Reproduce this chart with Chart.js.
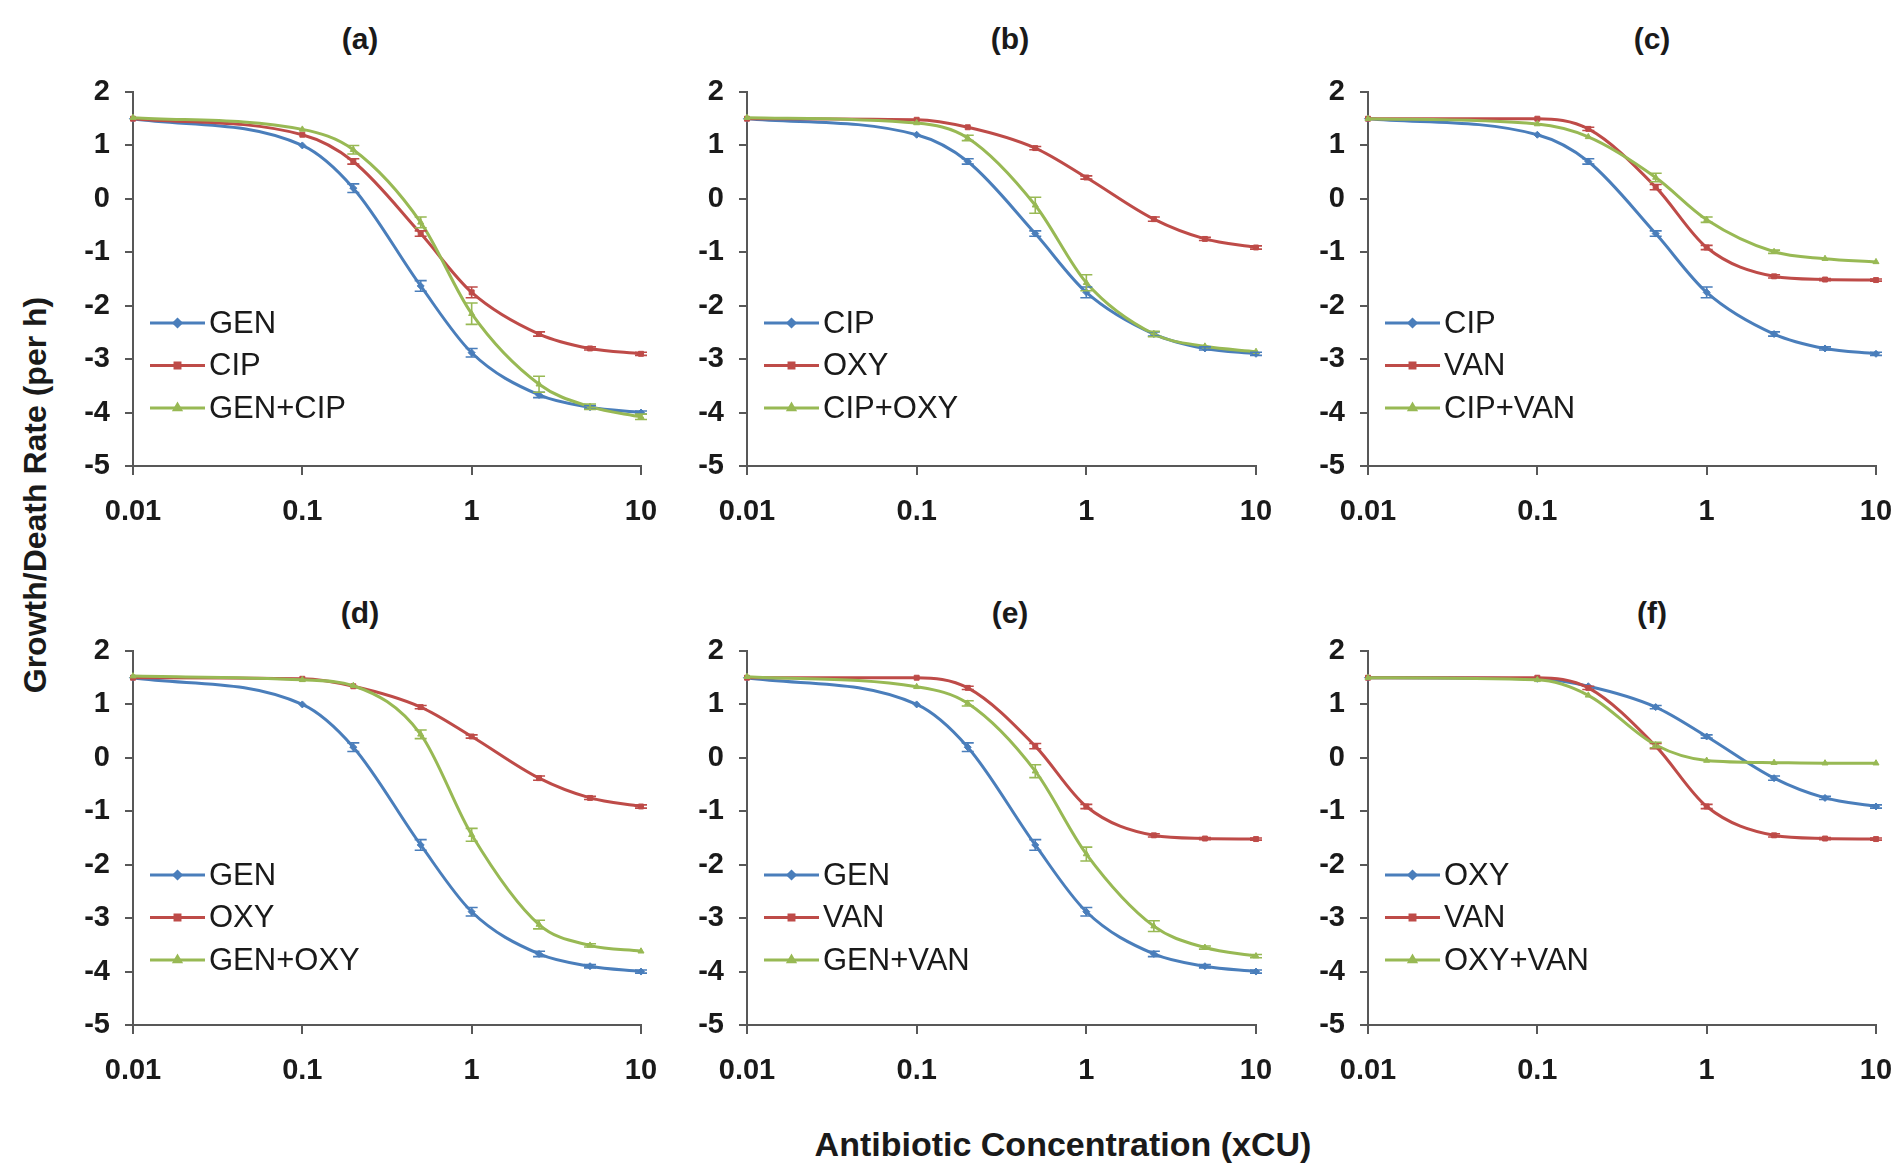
<!DOCTYPE html>
<html>
<head>
<meta charset="utf-8">
<title>Growth/Death Rate vs Antibiotic Concentration</title>
<script src="https://cdn.jsdelivr.net/npm/chart.js@4.4.1/dist/chart.umd.min.js"></script>
<style>
  body {
    margin: 0;
    width: 1902px;
    height: 1175px;
    position: relative;
    overflow: hidden;
    background: #fff;
    font-family: "Liberation Sans", Arial, sans-serif;
    color: #1a1a1a;
  }
  canvas { position: absolute; }
  .ptitle {
    position: absolute;
    transform: translate(-50%, -50%);
    font-size: 30px;
    font-weight: bold;
    white-space: nowrap;
  }
  #xTitle {
    position: absolute;
    left: 1063px;
    top: 1144px;
    transform: translate(-50%, -50%);
    font-size: 34px;
    font-weight: bold;
    white-space: nowrap;
  }
  #yTitle {
    position: absolute;
    left: 35px;
    top: 495px;
    transform: translate(-50%, -50%) rotate(-90deg);
    font-size: 32px;
    font-weight: bold;
    white-space: nowrap;
  }
</style>
</head>
<body>
<div id="xTitle">Antibiotic Concentration (xCU)</div>
<div id="yTitle">Growth/Death Rate (per h)</div>

<script>
// concentrations (multiples of CU) and axis ticks
const conc = [0.01, 0.1, 0.2, 0.5, 1, 2.5, 5, 10];
const xTicks = [0.01, 0.1, 1, 10];
const yMin = -5, yMax = 2;

// single drugs (per h)
const GEN = [1.5, 1.0, 0.2, -1.63, -2.88, -3.67, -3.9, -4.0];
const CIP = [1.5, 1.2, 0.7, -0.65, -1.75, -2.53, -2.8, -2.9];
const OXY = [1.5, 1.48, 1.34, 0.95, 0.4, -0.38, -0.75, -0.91];
const VAN = [1.5, 1.5, 1.31, 0.22, -0.91, -1.45, -1.51, -1.52];

// combinations
const GEN_CIP = [1.52, 1.3, 0.92, -0.44, -2.15, -3.47, -3.89, -4.08];
const CIP_OXY = [1.52, 1.42, 1.14, -0.12, -1.57, -2.53, -2.76, -2.86];
const CIP_VAN = [1.5, 1.4, 1.16, 0.4, -0.39, -0.99, -1.12, -1.18];
const GEN_OXY = [1.53, 1.46, 1.35, 0.44, -1.44, -3.12, -3.51, -3.62];
const GEN_VAN = [1.52, 1.33, 1.02, -0.25, -1.8, -3.15, -3.55, -3.71];
const OXY_VAN = [1.5, 1.46, 1.17, 0.24, -0.05, -0.09, -0.1, -0.1];

// error bar half-widths
const errGEN = [0, 0, 0.08, 0.1, 0.08, 0.05, 0.03, 0.03];
const errCIP = [0, 0, 0.05, 0.05, 0.1, 0.04, 0.03, 0.03];
const errOXY = [0, 0, 0, 0.03, 0.03, 0.04, 0.03, 0.03];
const errVAN = [0, 0, 0.03, 0.05, 0.04, 0.03, 0.02, 0.02];
const errGEN_CIP = [0, 0, 0.08, 0.1, 0.2, 0.15, 0.05, 0.05];
const errCIP_OXY = [0, 0, 0.05, 0.15, 0.15, 0.05, 0, 0];
const errCIP_VAN = [0, 0, 0, 0.08, 0.05, 0.03, 0, 0];
const errGEN_OXY = [0, 0, 0, 0.08, 0.12, 0.08, 0.03, 0];
const errGEN_VAN = [0, 0, 0.05, 0.12, 0.13, 0.1, 0.03, 0.03];
const errOXY_VAN = [0, 0, 0, 0.05, 0, 0, 0, 0];

const panels = [
  { name: '(a)', series: [['GEN', GEN, errGEN], ['CIP', CIP, errCIP], ['GEN+CIP', GEN_CIP, errGEN_CIP]] },
  { name: '(b)', series: [['CIP', CIP, errCIP], ['OXY', OXY, errOXY], ['CIP+OXY', CIP_OXY, errCIP_OXY]] },
  { name: '(c)', series: [['CIP', CIP, errCIP], ['VAN', VAN, errVAN], ['CIP+VAN', CIP_VAN, errCIP_VAN]] },
  { name: '(d)', series: [['GEN', GEN, errGEN], ['OXY', OXY, errOXY], ['GEN+OXY', GEN_OXY, errGEN_OXY]] },
  { name: '(e)', series: [['GEN', GEN, errGEN], ['VAN', VAN, errVAN], ['GEN+VAN', GEN_VAN, errGEN_VAN]] },
  { name: '(f)', series: [['OXY', OXY, errOXY], ['VAN', VAN, errVAN], ['OXY+VAN', OXY_VAN, errOXY_VAN]] }
];

const colors = ['#4a7ebb', '#be4b48', '#98b954'];
const markers = ['rectRot', 'rect', 'triangle'];
const FONT = '"Liberation Sans", Arial, sans-serif';
const AXIS = '#585858';

// plot-area boxes on the page
const cols = [[133, 641], [747, 1256], [1368, 1876]];
const rows = [[92, 466], [651, 1025]];
const titleX = [360, 1010, 1652];
const titleY = [39, 613];
const legendTop = [231, 224];

// vertical error bars with caps
const errorBars = {
  id: 'errorBars',
  afterDatasetsDraw(chart) {
    const ctx = chart.ctx;
    const ys = chart.scales.y;
    chart.data.datasets.forEach((ds, i) => {
      const meta = chart.getDatasetMeta(i);
      ctx.save();
      ctx.strokeStyle = ds.borderColor;
      ctx.lineWidth = 1.6;
      meta.data.forEach((pt, j) => {
        const e = ds.errors[j];
        if (!e) return;
        const v = ds.data[j].y;
        const y1 = ys.getPixelForValue(v + e);
        const y2 = ys.getPixelForValue(v - e);
        ctx.beginPath();
        ctx.moveTo(pt.x, y1); ctx.lineTo(pt.x, y2);
        ctx.moveTo(pt.x - 6, y1); ctx.lineTo(pt.x + 6, y1);
        ctx.moveTo(pt.x - 6, y2); ctx.lineTo(pt.x + 6, y2);
        ctx.stroke();
      });
      ctx.restore();
    });
  }
};

// legend drawn inside the plot area, lower left
const insetLegend = {
  id: 'insetLegend',
  afterDraw(chart, args, opts) {
    const ctx = chart.ctx;
    const area = chart.chartArea;
    ctx.save();
    chart.data.datasets.forEach((ds, i) => {
      const x0 = area.left + opts.left;
      const y = area.top + opts.top + i * opts.gap;
      ctx.strokeStyle = ds.borderColor;
      ctx.fillStyle = ds.borderColor;
      ctx.lineWidth = 3;
      ctx.beginPath();
      ctx.moveTo(x0, y);
      ctx.lineTo(x0 + opts.len, y);
      ctx.stroke();
      Chart.helpers.drawPoint(ctx, { pointStyle: ds.pointStyle, radius: 3.5, rotation: 0, borderWidth: 1 }, x0 + opts.len / 2, y);
      ctx.fillStyle = '#1a1a1a';
      ctx.font = opts.fontSize + 'px ' + FONT;
      ctx.textBaseline = 'middle';
      ctx.fillText(ds.label, x0 + opts.len + 4, y + 1);
    });
    ctx.restore();
  }
};

panels.forEach((p, n) => {
  const r = Math.floor(n / 3), c = n % 3;
  const [left, right] = cols[c];
  const [top, bottom] = rows[r];

  const t = document.createElement('div');
  t.className = 'ptitle';
  t.textContent = p.name;
  t.style.left = titleX[c] + 'px';
  t.style.top = titleY[r] + 'px';
  document.body.appendChild(t);

  const cv = document.createElement('canvas');
  const w = right - left + 130;
  const h = bottom - top + 90;
  cv.width = w; cv.height = h;
  cv.style.left = (left - 100) + 'px';
  cv.style.top = (top - 20) + 'px';
  cv.style.width = w + 'px';
  cv.style.height = h + 'px';
  document.body.appendChild(cv);

  const datasets = p.series.map(([label, vals, err], k) => ({
    label,
    data: conc.map((x, i) => ({ x, y: vals[i] })),
    errors: err,
    borderColor: colors[k],
    backgroundColor: colors[k],
    borderWidth: 3,
    pointStyle: markers[k],
    pointRadius: 3.5,
    pointBorderWidth: 1,
    cubicInterpolationMode: 'monotone',
    order: 2 - k,
    clip: false
  }));

  new Chart(cv, {
    type: 'line',
    data: { datasets },
    plugins: [errorBars, insetLegend],
    options: {
      responsive: false,
      animation: false,
      devicePixelRatio: 1,
      layout: { padding: { left: 10, top: 20, right: 30, bottom: 10 } },
      plugins: {
        legend: { display: false },
        tooltip: { enabled: false },
        insetLegend: { left: 17, top: legendTop[r], gap: 42.5, len: 55, fontSize: 31 }
      },
      scales: {
        x: {
          type: 'logarithmic',
          min: 0.01,
          max: 10,
          afterBuildTicks: (s) => { s.ticks = xTicks.map(v => ({ value: v })); },
          // fixed axis band so every plot area lands in the same place
          afterFit: (s) => { s.height = 60; s.paddingLeft = 0; s.paddingRight = 0; },
          ticks: {
            autoSkip: false,
            maxRotation: 0,
            padding: 20,
            color: '#1a1a1a',
            font: { family: FONT, size: 29, weight: 'bold' },
            callback: (v) => String(v)
          },
          grid: { drawOnChartArea: false, tickLength: 9, color: AXIS, lineWidth: 2 },
          border: { color: AXIS, width: 2 }
        },
        y: {
          min: yMin,
          max: yMax,
          afterFit: (s) => { s.width = 90; s.paddingTop = 0; s.paddingBottom = 0; },
          ticks: {
            stepSize: 1,
            padding: 15,
            color: '#1a1a1a',
            font: { family: FONT, size: 29, weight: 'bold' }
          },
          grid: { drawOnChartArea: false, tickLength: 8, color: AXIS, lineWidth: 2 },
          border: { color: AXIS, width: 2 }
        }
      }
    }
  });
});
</script>
</body>
</html>
